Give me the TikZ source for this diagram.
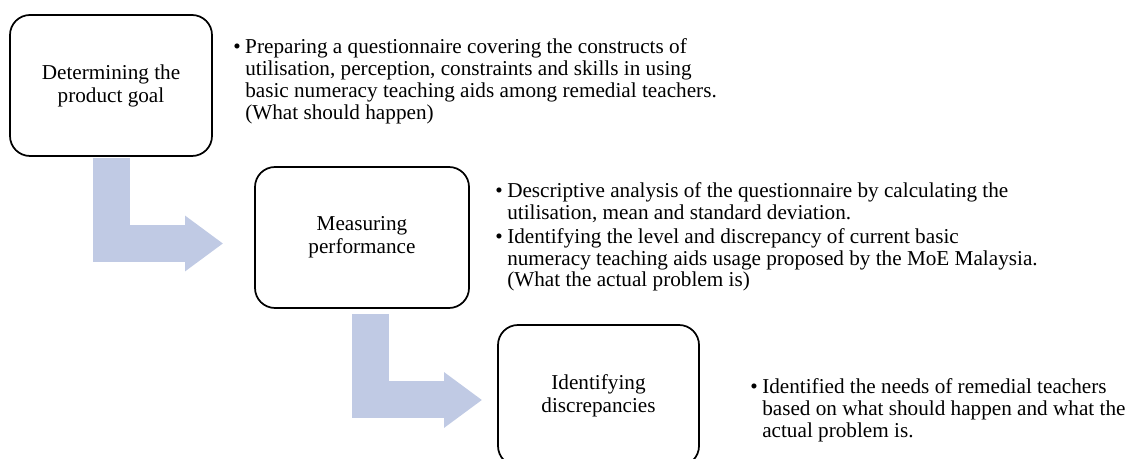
\documentclass[tikz,border=0pt]{standalone}
\usepackage{fontspec}
\setmainfont{Liberation Serif}
\usetikzlibrary{arrows.meta,calc}

\definecolor{arrowblue}{RGB}{192,202,228}
\newcommand{\bul}{\makebox[9pt][l]{\textbullet}}

\begin{document}
\begin{tikzpicture}[x=0.75pt,y=-0.75pt]
	\tikzstyle{Stage} = [draw, fill=white, rounded corners=15pt, line width=1.3pt, minimum height=105.75pt, align=center, inner sep=0pt, font=\fontsize{15.9pt}{17.2pt}\selectfont]
	\tikzstyle{Desc}  = [anchor=base west, inner sep=0pt, font=\fontsize{15.9pt}{16.3pt}\selectfont]
	\tikzstyle{Flow}  = [line width=27.75pt, draw=arrowblue, -{Triangle[width=39.75pt,length=28.5pt]}]

	\useasboundingbox (0,0) rectangle (1128,459);
	\clip (0,0) rectangle (1128,459);

	\node (goal) at (111,85.5) [Stage][minimum width=151.5pt] {Determining the\\product goal};
	\node (perf) at (362,237.5) [Stage][minimum width=160.5pt] {Measuring\\performance};
	\node (disc) at (598.5,395.5) [Stage][minimum width=150.75pt] {Identifying\\discrepancies};

	\node (goalNote) at (233,54) [Desc] {\begin{tabular}[t]{@{}l@{}l@{}}
		\bul & Preparing a questionnaire covering the constructs of\\
		     & utilisation, perception, constraints and skills in using\\
		     & basic numeracy teaching aids among remedial teachers.\\
		     & (What should happen)
	\end{tabular}};
	\node (perfNote) at (495,198) [Desc] {\begin{tabular}[t]{@{}l@{}l@{}}
		\bul & Descriptive analysis of the questionnaire by calculating the\\
		     & utilisation, mean and standard deviation.\\[1.5pt]
		\bul & Identifying the level and discrepancy of current basic\\
		     & numeracy teaching aids usage proposed by the MoE Malaysia.\\
		     & (What the actual problem is)
	\end{tabular}};
	\node (discNote) at (750,394) [Desc] {\begin{tabular}[t]{@{}l@{}l@{}}
		\bul & Identified the needs of remedial teachers\\
		     & based on what should happen and what the\\
		     & actual problem is.
	\end{tabular}};

	% bent block arrows between the stages
	\draw [Flow] ($(goal.south)+(0,1)$) |- ($(perf.west)+(-31,6)$);
	\draw [Flow] ($(perf.south)+(8,5)$) |- ($(disc.west)+(-15,4.5)$);
\end{tikzpicture}
\end{document}
